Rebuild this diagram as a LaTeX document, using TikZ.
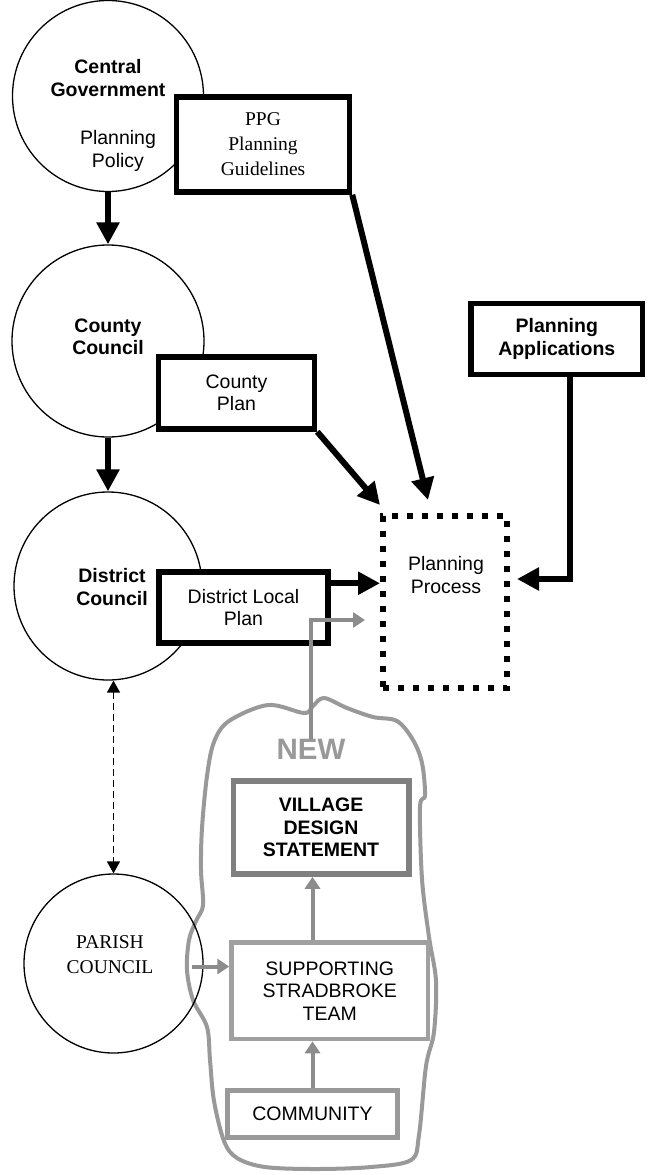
\documentclass[tikz,border=0pt]{standalone}
\usepackage{fontspec}
\setmainfont{Liberation Serif}
\setsansfont{Liberation Sans}
\usetikzlibrary{arrows.meta,calc}
\definecolor{blobgray}{RGB}{153,153,153}
\definecolor{linegray}{RGB}{140,140,140}
\definecolor{vdsgray}{RGB}{128,128,128}
\definecolor{sstgray}{RGB}{160,160,160}
\begin{document}
\begin{tikzpicture}[x=1pt,y=-1pt,
  sans/.style={font=\fontsize{19.5}{22.5}\selectfont\sffamily, align=center, inner sep=0pt},
  sansb/.style={font=\fontsize{19.5}{22.5}\selectfont\sffamily\bfseries, align=center, inner sep=0pt},
  serif/.style={font=\fontsize{19.5}{25}\selectfont\rmfamily, align=center, inner sep=0pt},
  council/.style={circle, draw, line width=1.3pt, inner sep=0pt},
  blackbox/.style={draw, line width=5.5pt, fill=white, inner sep=0pt},
  graybox/.style={line width=5pt, fill=white, inner sep=0pt},
  thickarrow/.style={line width=6pt, -{Triangle[length=22pt,width=22pt]}},
  grayarrow/.style={draw=linegray, line width=4pt, -{Triangle[length=12pt,width=15pt]}, color=linegray},
  dashedarrow/.style={line width=1.6pt, dash pattern=on 7pt off 4pt, {Triangle[length=12pt,width=13pt]}-{Triangle[length=12pt,width=13pt]}},
]
\useasboundingbox (0,0) rectangle (648,1175);

% blob
\draw[blobgray, line width=4pt] plot[smooth cycle, tension=0.55] coordinates {
 (207,776) (214,742) (229,721) (268,705) (304,713) (313,706) (324,698) (347,708) (373,717) (397,721) (413,740) (422,763) (425,795) (420,807) (422,879) (429,937) (436,981) (434,1032) (426,1066) (419,1135) (411,1160) (371,1167) (316,1169) (265,1167) (237,1158) (224,1141) (214,1101) (210,1060) (207,1027) (193,1000) (187,970) (189,940) (196,921) (203,905) (201,870) (202,828)};

% circles
\node[council, minimum size=191pt] (cg) at (108,96) {};
\node[council, minimum size=192pt] (cc) at (108,341) {};
\node[council, minimum size=188pt] (dc) at (108,586) {};
\node[council, minimum size=179pt] (pc) at (113.5,963.5) {};

\node[sansb] (cgt) at (108,78) {Central\\Government};
\node[sans] (cgp) at (118,151) {Planning\\Policy};
\node[sansb] (cct) at (108,337) {County\\Council};
\node[sansb] (dct) at (112,587) {District\\Council};
\node[serif] (pct) at (110,955) {PARISH\\COUNCIL};

% black boxes
\node[blackbox, minimum width=173pt, minimum height=95pt, serif] (ppg) at (263,144.5) {PPG\\Planning\\Guidelines};
\node[blackbox, minimum width=156pt, minimum height=72pt, sans] (cp) at (236.5,393) {County\\Plan};
\node[blackbox, minimum width=169pt, minimum height=71pt, sans] (dlp) at (243.5,607.5) {District Local\\Plan};
\node[blackbox, minimum width=171.5pt, minimum height=71pt, sansb] (pa) at (556.75,339) {Planning\\Applications};
\node[draw, line width=6pt, dash pattern=on 6pt off 9pt, minimum width=124pt, minimum height=172pt, inner sep=0pt] (pp) at (445,602) {};
\node[sans] (ppt) at (446,575) {Planning\\Process};

% thick arrows
\coordinate (ppgtip) at (428,500);
\coordinate (cptip) at (380,505);
\draw[thickarrow] (cg.south) -- (cc.north);
\draw[thickarrow] (cc.south) -- (dc.north);
\draw[thickarrow] (ppg.south east) -- (ppgtip);
\draw[thickarrow] (cp.south east) -- (cptip);
\coordinate (dlpout) at ($(dlp.north east)+(-3,14)$);
\draw[thickarrow] (dlpout) -- (dlpout -| pp.west);
\coordinate (paout) at ($(pa.south)+(13,-3)$);
\coordinate (pain) at ($(pp.east)+(7,-23)$);
\draw[thickarrow] (paout) |- (pain);

% dashed link
\draw[dashedarrow] (pc.north |- dc.south) -- (pc.north);

% new group
\node[sansb, font=\fontsize{29.5}{30}\selectfont\sffamily\bfseries, text=blobgray] (new) at (311,749) {NEW};
\coordinate (ppin) at ($(pp.west)+(-15,18)$);
\draw[grayarrow] (new.north) |- (ppin);

\node[graybox, draw=vdsgray, line width=5.5pt, minimum width=175.5pt, minimum height=93pt, sansb] (vds) at (321,827.5) {VILLAGE\\DESIGN\\STATEMENT};
\node[graybox, draw=sstgray, line width=4.5pt, minimum width=196.5pt, minimum height=96.5pt, sans] (sst) at (329.75,990.75) {SUPPORTING\\STRADBROKE\\TEAM};
\node[graybox, draw=blobgray, minimum width=170pt, minimum height=47.5pt, sans] (comm) at (312.5,1114) {COMMUNITY};

\draw[grayarrow] (comm.north) -- (comm.north |- sst.south);
\draw[grayarrow] (comm.north |- sst.north) -- (comm.north |- vds.south);
\coordinate (pcout) at (191.5,966.5);
\draw[grayarrow] (pcout) -- (pcout -| sst.west);
\end{tikzpicture}
\end{document}
